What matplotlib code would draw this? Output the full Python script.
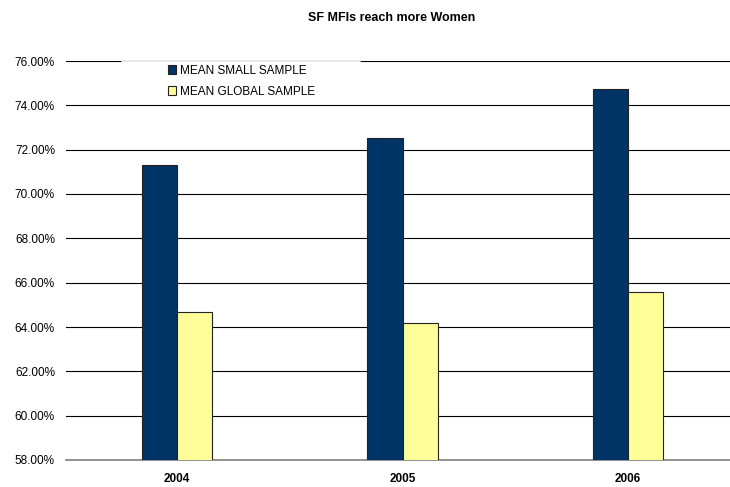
import matplotlib.pyplot as plt
import matplotlib.patches as mpatches
import numpy as np

plt.rcParams['font.family'] = ['Liberation Sans', 'DejaVu Sans']

years = ['2004', '2005', '2006']
small_sample = [71.31, 72.54, 74.72]
global_sample = [64.66, 64.18, 65.59]
series_names = ['MEAN SMALL SAMPLE', 'MEAN GLOBAL SAMPLE']

x = np.arange(len(years))
w = 0.157

fig = plt.figure(figsize=(7.3, 4.87), dpi=100)
ax = fig.add_axes([66 / 730, 1 - 460 / 487, 1 - 66 / 730, (460 - 61) / 487])

b1 = ax.bar(x - w / 2, small_sample, w, color='#003366', edgecolor='#222222',
            linewidth=0.8, zorder=3, label=series_names[0])
b2 = ax.bar(x + w / 2, global_sample, w, color='#FFFF99', edgecolor='#222222',
            linewidth=0.8, zorder=3, label=series_names[1])

ax.set_ylim(58, 76)
ax.set_xlim(-0.492, 2.452)
ax.set_yticks(np.arange(58, 77, 2))
ax.set_yticklabels([f'{v:.2f}%' for v in np.arange(58, 77, 2)], fontsize=8.5)
ax.set_xticks(x)
ax.set_xticklabels(years, fontsize=8.5, fontweight='bold')
ax.tick_params(axis='y', length=0, pad=8)
ax.tick_params(axis='x', length=0, pad=9)
ax.grid(axis='y', color='black', linewidth=0.8, zorder=0)
ax.set_axisbelow(True)
for s in ['top', 'right', 'left']:
    ax.spines[s].set_visible(False)
ax.spines['bottom'].set_color('#808080')
ax.spines['bottom'].set_linewidth(1.2)

# white legend box over the top gridline
box = mpatches.Rectangle((122 / 730, 1 - 103 / 487), (360 - 122) / 730, 42.5 / 487,
                         transform=fig.transFigure, facecolor='white',
                         edgecolor='none', zorder=5)
fig.patches.append(box)
fig.add_artist(plt.Line2D([122 / 730, 360 / 730], [1 - 61 / 487] * 2,
                          transform=fig.transFigure, color='#e4e4e4',
                          linewidth=1.2, zorder=5.5))
leg = fig.legend(handles=[b1, b2], loc='upper left',
                 bbox_to_anchor=(163 / 730, 1 - 60 / 487), frameon=False,
                 fontsize=8.5, handlelength=0.7, handleheight=0.7,
                 handletextpad=0.3, labelspacing=0.75, borderaxespad=0)
leg.set_zorder(6)

fig.text(392 / 730, 1 - 18 / 487, 'SF MFIs reach more Women', ha='center',
         va='center', fontsize=9, fontweight='bold')

fig.savefig('out.png', dpi=100)
